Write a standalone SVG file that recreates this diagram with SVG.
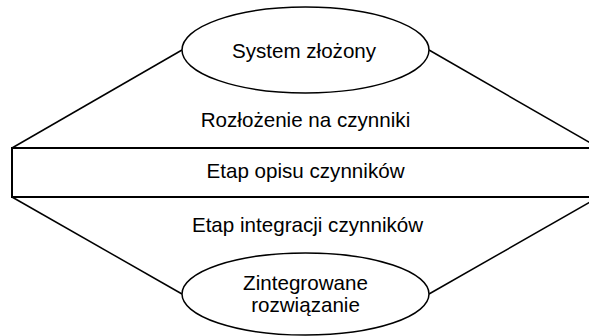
<svg xmlns="http://www.w3.org/2000/svg" width="589" height="336" viewBox="0 0 589 336">
<style>
.t{font-family:"Liberation Sans",Arial,sans-serif;font-size:20.6px;fill:#000;text-anchor:middle}
.s{fill:#fff;stroke:#000;stroke-width:1.5}
.c{fill:none;stroke:#000;stroke-width:1.5}
</style>
<rect width="589" height="336" fill="#fff"/>
<g id="connectors">
<line class="c" x1="182" y1="50" x2="12" y2="148"/>
<line class="c" x1="429" y1="50" x2="599" y2="148"/>
<line class="c" x1="12" y1="197" x2="182" y2="294"/>
<line class="c" x1="429" y1="294" x2="599" y2="197"/>
</g>
<g id="system">
<ellipse class="s" cx="305.5" cy="50" rx="123.5" ry="43"/>
<text class="t" x="304" y="58">System złożony</text>
</g>
<g id="rozlozenie">
<text class="t" x="305.5" y="127">Rozłożenie na czynniki</text>
</g>
<g id="opis">
<rect x="12" y="148" width="587" height="49" fill="#fff" stroke="#000" stroke-width="2"/>
<text class="t" x="305.5" y="178">Etap opisu czynników</text>
</g>
<g id="integracja">
<text class="t" x="307.5" y="231.5">Etap integracji czynników</text>
</g>
<g id="rozwiazanie">
<ellipse class="s" cx="305.5" cy="294" rx="123.5" ry="41"/>
<text class="t" x="305.5" y="289.5">Zintegrowane</text>
<text class="t" x="305.5" y="312">rozwiązanie</text>
</g>
</svg>
